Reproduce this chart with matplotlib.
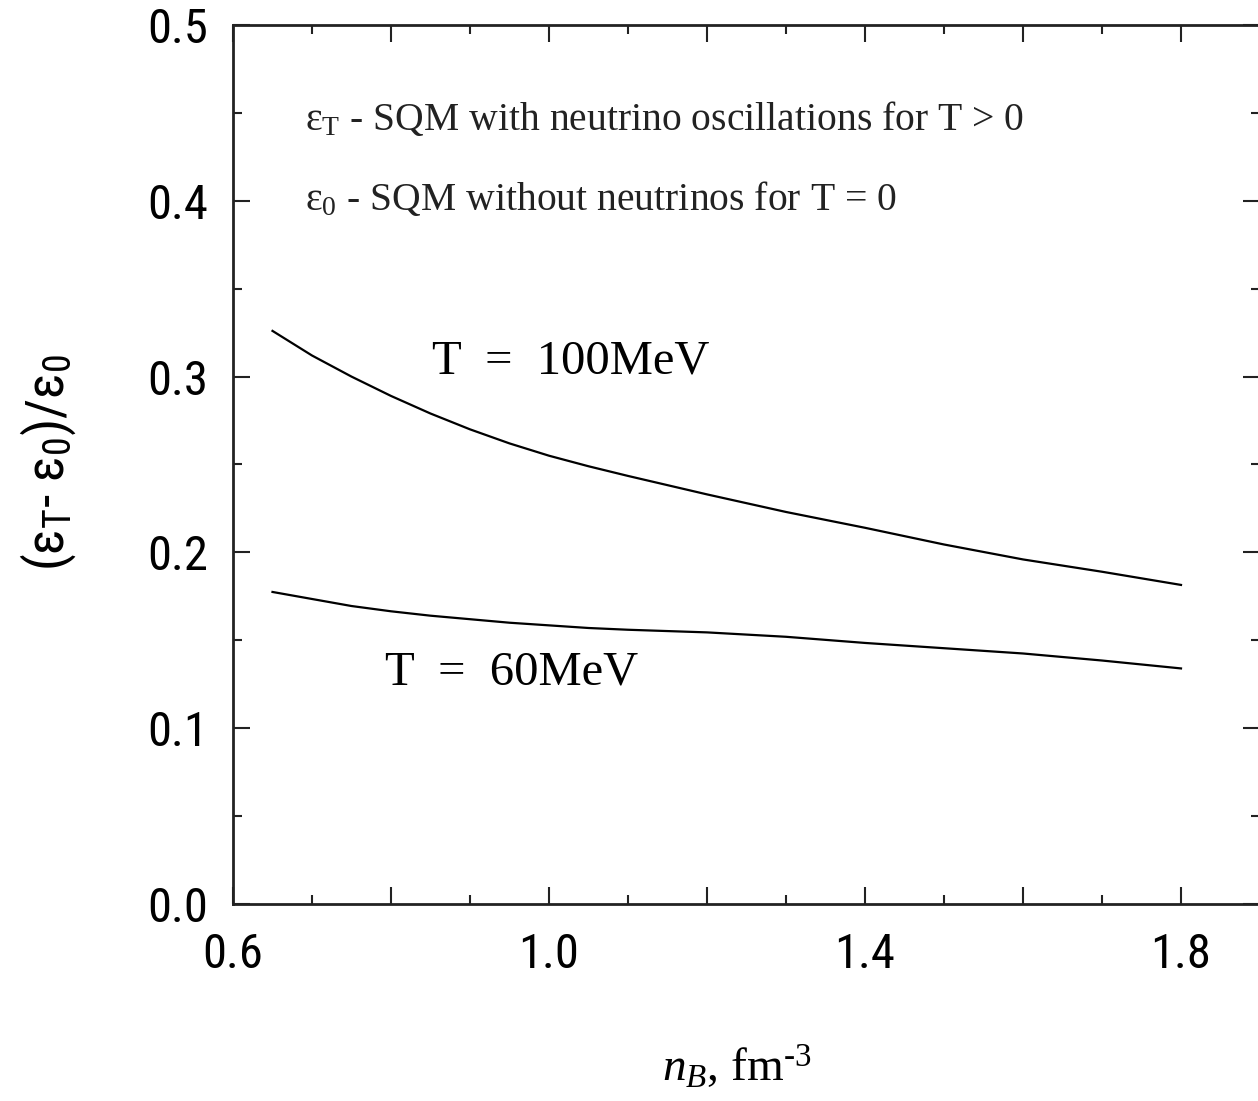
import dataclasses
import matplotlib
matplotlib.use("Agg")
import matplotlib.pyplot as plt
from matplotlib import font_manager as fm
from matplotlib.ticker import MultipleLocator, FixedLocator, FixedFormatter

# ---- data ----
nB = [0.65, 0.70, 0.75, 0.80, 0.85, 0.90, 0.95, 1.00, 1.05, 1.10, 1.20, 1.30, 1.40, 1.50, 1.60, 1.70, 1.80]
T100 = [0.326, 0.312, 0.300, 0.289, 0.279, 0.270, 0.262, 0.255, 0.249, 0.2435, 0.233, 0.223, 0.214,
        0.2045, 0.196, 0.189, 0.1815]
T60 = [0.1775, 0.1735, 0.1695, 0.1665, 0.164, 0.162, 0.160, 0.1585, 0.157, 0.156, 0.1545, 0.152, 0.1485,
       0.1455, 0.1425, 0.1385, 0.134]
xtick_vals = [0.6, 0.8, 1.0, 1.2, 1.4, 1.6, 1.8]
xtick_labels = ["0.6", "", "1.0", "", "1.4", "", "1.8"]
ytick_vals = [0.0, 0.1, 0.2, 0.3, 0.4, 0.5]
ytick_labels = ["0.0", "0.1", "0.2", "0.3", "0.4", "0.5"]

# ---- find a condensed sans font if one is installed ----
def find_condensed():
    pref = ["Liberation Sans Narrow", "Arial Narrow", "Roboto Condensed", "Open Sans Condensed",
            "Noto Sans Condensed", "DejaVu Sans Condensed"]
    cands = []
    for f in fm.fontManager.ttflist:
        cond = (str(f.stretch) in ("condensed", "semi-condensed", "extra-condensed")
                or "Narrow" in f.name or "Condensed" in f.name)
        if not cond or f.style != "normal":
            continue
        if "Mono" in f.name or "Serif" in f.name or "CJK" in f.name:
            continue
        if f.weight not in (400, "normal", "regular", "book"):
            continue
        cands.append(f)
    if not cands:
        return None
    def key(f):
        for i, p in enumerate(pref):
            if f.name.startswith(p.split()[0]) and p.split()[0] in f.name:
                return i
        return len(pref)
    cands.sort(key=key)
    return cands[0]

c = find_condensed()
if c is not None:
    fm.fontManager.ttflist.append(dataclasses.replace(c, name="CondSansX", stretch="normal"))
    sans = "CondSansX"
    tick_fs = 35
else:
    sans = "Liberation Sans"
    tick_fs = 32
serif = "Liberation Serif"

plt.rcParams["mathtext.fontset"] = "custom"
plt.rcParams["mathtext.rm"] = serif
plt.rcParams["mathtext.it"] = serif + ":italic"
plt.rcParams["mathtext.sf"] = sans

W, H = 1258, 1101
fig = plt.figure(figsize=(W / 100, H / 100), dpi=100)
L, R, B, T = 233, 1260, 904, 25
ax = fig.add_axes([L / W, 1 - B / H, (R - L) / W, (B - T) / H])

ax.plot(nB, T100, color="black", lw=1.6)
ax.plot(nB, T60, color="black", lw=1.6)

ax.set_xlim(0.6, 1.9)
ax.set_ylim(0.0, 0.5)

ax.xaxis.set_major_locator(FixedLocator(xtick_vals))
ax.xaxis.set_major_formatter(FixedFormatter(xtick_labels))
ax.xaxis.set_minor_locator(MultipleLocator(0.1))
ax.yaxis.set_major_locator(FixedLocator(ytick_vals))
ax.yaxis.set_major_formatter(FixedFormatter(ytick_labels))
ax.yaxis.set_minor_locator(MultipleLocator(0.05))

ax.tick_params(which="both", direction="in", top=True, right=True, width=1.5, color="#222222")
ax.tick_params(which="major", length=12)
ax.tick_params(which="minor", length=6.5)
ax.tick_params(axis="x", which="major", pad=20, labelsize=tick_fs)
ax.tick_params(axis="y", which="major", pad=18, labelsize=tick_fs)
for lab in ax.get_xticklabels() + ax.get_yticklabels():
    lab.set_fontfamily(sans)
for s in ax.spines.values():
    s.set_linewidth(2.0)
    s.set_color("#222222")

ax.text(0.691, 0.440, r"$\mathrm{ε}_{\mathrm{T}}$ - SQM with neutrino oscillations for T > 0",
        family=serif, fontsize=28.5, va="baseline", ha="left", color="#222222")
ax.text(0.691, 0.3948, r"$\mathrm{ε}_{\mathrm{0}}$ - SQM without neutrinos for T = 0",
        family=serif, fontsize=28.5, va="baseline", ha="left", color="#222222")
ax.text(0.852, 0.302, "T  =  100MeV", family=serif, fontsize=35, va="baseline", ha="left")
ax.text(0.792, 0.1246, "T  =  60MeV", family=serif, fontsize=35, va="baseline", ha="left")

fig.text(737 / W, 1 - 1082 / H, r"$n_B$, fm$^{\text{-3}}$", family=serif, fontsize=34,
         ha="center", va="baseline")
fig.text(48 / W, 1 - 462 / H, r"(ε$_\mathsf{T}$- ε$_\mathsf{0}$)/ε$_\mathsf{0}$", family=sans,
         fontsize=39, rotation=90, ha="center", va="center")

fig.savefig("out.png", dpi=100)
